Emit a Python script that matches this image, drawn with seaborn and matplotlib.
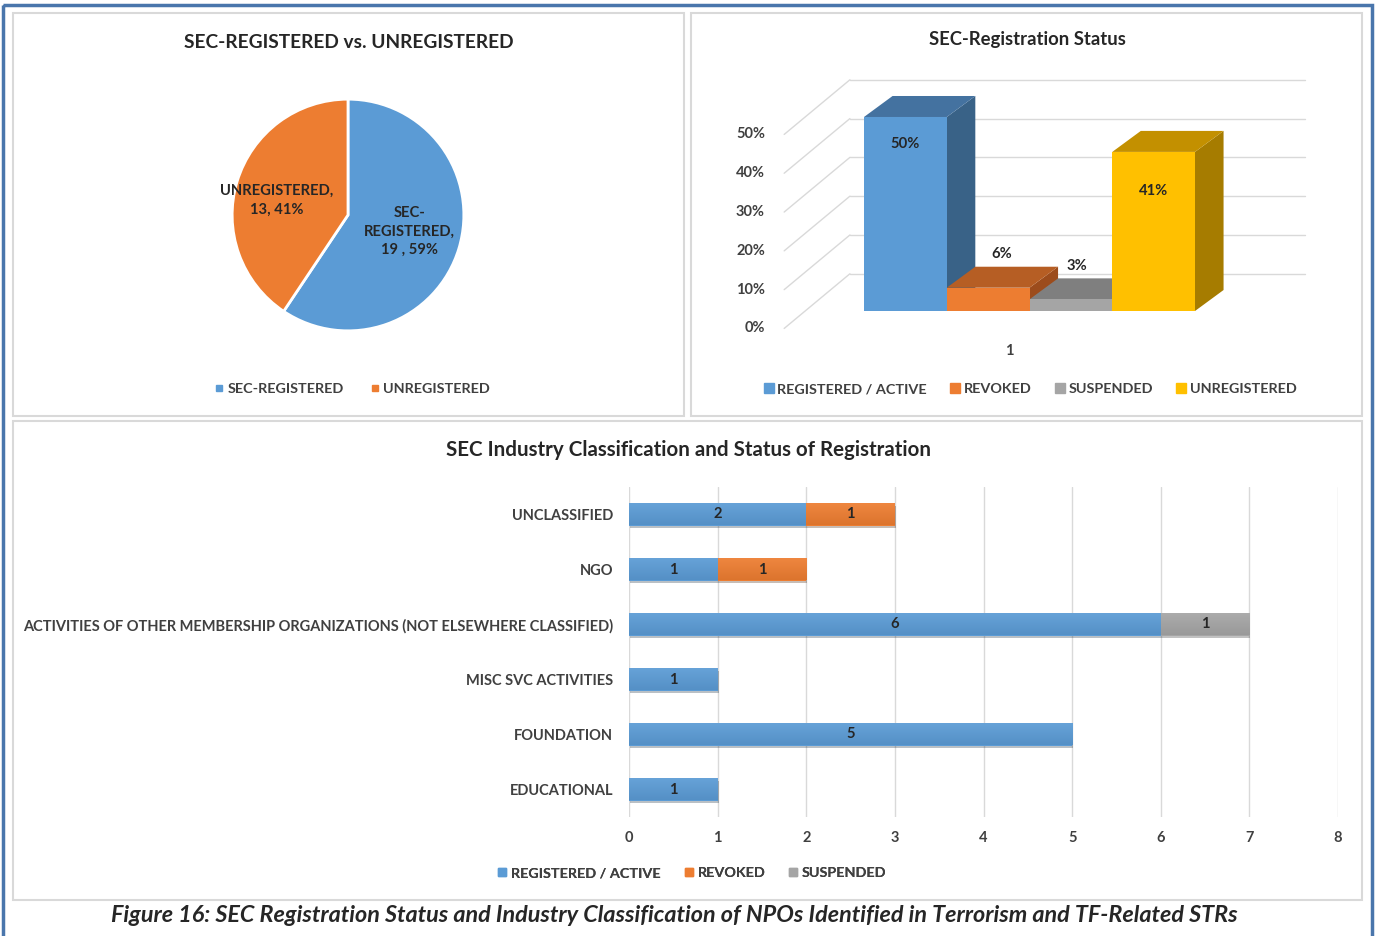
import numpy as np
import pandas as pd
import seaborn as sns
import matplotlib.pyplot as plt
from matplotlib.patches import Rectangle, Polygon
from matplotlib.lines import Line2D
from matplotlib.colors import to_rgb
import matplotlib.patheffects as pe

# --- data ---
pie_labels = ["SEC-REGISTERED", "UNREGISTERED"]
pie_counts = [19, 13]

status_names = ["REGISTERED / ACTIVE", "REVOKED", "SUSPENDED", "UNREGISTERED"]
status_pct = [50, 6, 3, 41]
status_cat = "1"

industries = ["UNCLASSIFIED", "NGO",
              "ACTIVITIES OF OTHER MEMBERSHIP ORGANIZATIONS (NOT ELSEWHERE CLASSIFIED)",
              "MISC SVC ACTIVITIES", "FOUNDATION", "EDUCATIONAL"]
active = [2, 1, 6, 1, 5, 1]
revoked = [1, 1, 0, 0, 0, 0]
suspended = [0, 0, 1, 0, 0, 0]

BLUE, ORANGE, GRAY, YELLOW = "#5B9BD5", "#ED7D31", "#A5A5A5", "#FFC000"
TXT = "#404040"
DARK = "#262626"

sns.set_style("white")
plt.rcParams['font.family'] = ['Lato', 'DejaVu Sans']

W, H = 1375, 936
fig = plt.figure(figsize=(W / 100, H / 100), dpi=100)


def px_axes(l, t, r, b):
    return fig.add_axes([l / W, 1 - b / H, (r - l) / W, (b - t) / H])


def square_legend(labels, colors, xy, msize, gap):
    handles = [Line2D([], [], marker='s', ls='none', color=c, markersize=msize) for c in colors]
    leg = bg.legend(handles, labels, loc='center', bbox_to_anchor=xy, bbox_transform=bg.transData,
                    ncol=len(labels), frameon=False, handlelength=0.7, handletextpad=0.25,
                    columnspacing=gap, prop=dict(size=10.4, weight='bold'), labelcolor=TXT)
    bg.add_artist(leg)


# background axes in pixel coords for frames, titles, caption
bg = px_axes(0, 0, W, H)
bg.set_xlim(0, W)
bg.set_ylim(H, 0)
bg.axis('off')
bg.set_zorder(-1)

bg.add_patch(Rectangle((3, 5), 1369, 940, fill=False, edgecolor='#4A76AC', lw=2.5))
for (l, t, r, b) in [(13, 13, 684, 416), (691, 13, 1362, 416), (13, 421, 1362, 900)]:
    bg.add_patch(Rectangle((l, t), r - l, b - t, fill=False, edgecolor='#D9D9D9', lw=1.5))

bg.text(349, 42, "SEC-REGISTERED vs. UNREGISTERED", ha='center', va='center',
        fontsize=13.8, color=DARK, fontweight='bold')
bg.text(1027, 40, "SEC-Registration Status", ha='center', va='center',
        fontsize=13.3, color=DARK, fontweight='bold')
bg.text(689, 450, "SEC Industry Classification and Status of Registration", ha='center', va='center',
        fontsize=14.8, color=DARK, fontweight='bold')
bg.text(674, 916, "Figure 16: SEC Registration Status and Industry Classification of NPOs "
        "Identified in Terrorism and TF-Related STRs", ha='center', va='center',
        fontsize=16.8, fontweight='bold', style='italic', color=DARK)

# --- pie ---
axp = px_axes(231, 98, 465, 332)
axp.pie(pie_counts, colors=[BLUE, ORANGE], startangle=90, counterclock=False,
        wedgeprops=dict(edgecolor='white', linewidth=2))
axp.set_xlim(-1.01, 1.01)
axp.set_ylim(-1.01, 1.01)
axp.set_aspect('equal')
total = sum(pie_counts)
pcts = [round(c / total * 100) for c in pie_counts]
axp.text(0.53, -0.145, f"SEC-\nREGISTERED,\n{pie_counts[0]} , {pcts[0]}%", ha='center', va='center',
         fontsize=10.6, fontweight='bold', color=DARK, linespacing=1.4)
axp.text(-0.615, 0.128, f"{pie_labels[1]},\n{pie_counts[1]}, {pcts[1]}%", ha='center', va='center',
         fontsize=10.6, fontweight='bold', color=DARK, linespacing=1.4)
square_legend(pie_labels, [BLUE, ORANGE], (352, 389), 5, 1.8)

# --- pseudo 3d column chart ---
ax3 = px_axes(772, 70, 1320, 338)
df3 = pd.DataFrame({"cat": [status_cat] * 4, "status": status_names, "pct": status_pct})
sns.barplot(data=df3, x="cat", y="pct", hue="status", hue_order=status_names,
            palette=[BLUE, ORANGE, GRAY, YELLOW], saturation=1, width=0.8,
            legend=False, ax=ax3, linewidth=0)
ax3.set_xlim(-0.6224, 0.7021)
ax3.set_ylim(-6.96, 62.11)

dx, dy = 0.069, 5.41
tops = ['#4472A0', '#B65E24', '#7F7F7F', '#C39000']
sides = ['#396287', '#9C4C1C', '#6B6B6B', '#A67C00']
label_off = [(0, -7), (0.034, 8.7), (0.015, 8.6), (0, -10.1)]
bars = sorted(ax3.patches, key=lambda p: p.get_x())
for i, p in enumerate(bars):
    x0, w, h = p.get_x(), p.get_width(), p.get_height()
    x1 = x0 + w
    ax3.add_patch(Polygon([(x1, 0), (x1, h), (x1 + dx, h + dy), (x1 + dx, dy)],
                          facecolor=sides[i], edgecolor='none', zorder=2 + 2 * i))
    ax3.add_patch(Polygon([(x0, h), (x1, h), (x1 + dx, h + dy), (x0 + dx, h + dy)],
                          facecolor=tops[i], edgecolor='none', zorder=2 + 2 * i))
    p.set_zorder(3 + 2 * i)
    ox, oy = label_off[i]
    ax3.text(x0 + w / 2 + ox, h + oy, f"{status_pct[i]}%", ha='center', va='center',
             fontsize=10.6, fontweight='bold', color=DARK, zorder=20)

grid_vals = [0, 10, 20, 30, 40, 50]
for v in grid_vals:
    ax3.plot([-0.434, 0.666], [v + 9.6, v + 9.6], color='#D9D9D9', lw=1, zorder=1)
    ax3.plot([-0.593, -0.434], [v - 4.5, v + 9.6], color='#D9D9D9', lw=1, zorder=1)
ax3.set_yticks([v - 4.12 for v in grid_vals], labels=[f"{v}%" for v in grid_vals])
ax3.set_xticks([-0.0495], labels=[status_cat])
ax3.tick_params(length=0, labelsize=10.5, labelcolor=TXT)
ax3.tick_params(axis='y', pad=5)
ax3.tick_params(axis='x', pad=4)
for t in ax3.get_yticklabels() + ax3.get_xticklabels():
    t.set_fontweight('bold')
ax3.set_xlabel('')
ax3.set_ylabel('')
sns.despine(ax=ax3, left=True, bottom=True)
square_legend(status_names, [BLUE, ORANGE, GRAY, YELLOW], (1030, 389), 6.5, 1.6)

# --- stacked horizontal bars ---
axb = px_axes(629, 487, 1338, 817)
dfb = pd.DataFrame({"industry": industries, "active": active, "revoked": revoked, "suspended": suspended})
left_rev = np.array(active)
left_sus = np.array(active) + np.array(revoked)
sns.barplot(data=dfb, y="industry", x="active", color=BLUE, saturation=1, width=0.4,
            orient='h', ax=axb, linewidth=0)
sns.barplot(data=dfb, y="industry", x="revoked", color=ORANGE, saturation=1, width=0.4,
            orient='h', ax=axb, linewidth=0, left=left_rev)
sns.barplot(data=dfb, y="industry", x="suspended", color=GRAY, saturation=1, width=0.4,
            orient='h', ax=axb, linewidth=0, left=left_sus)

# soft drop shadow + vertical shading like the office chart
for p in list(axb.patches):
    p.set_path_effects([pe.SimplePatchShadow(offset=(0.8, -1.8), alpha=0.3), pe.Normal()])
    if p.get_width() <= 0:
        continue
    x0, y0, w, h = p.get_x(), p.get_y(), p.get_width(), p.get_height()
    c = np.array(to_rgb(p.get_facecolor()))
    t = np.linspace(0, 1, 40)[:, None, None]
    img = (c + (1 - c) * 0.07) * (1 - t) + (c * 0.93) * t
    axb.imshow(img, extent=(x0, x0 + w, y0 + h, y0), aspect='auto', origin='upper',
               interpolation='bilinear', zorder=p.get_zorder() + 0.1)

for cont, vals in zip(axb.containers, [active, revoked, suspended]):
    axb.bar_label(cont, labels=[str(v) if v else "" for v in vals], label_type='center',
                  fontsize=10.6, fontweight='bold', color=DARK, zorder=10)
axb.set_xlim(0, 8)
axb.set_ylim(len(industries) - 0.5, -0.5)
axb.set_xticks(range(0, 9))
axb.grid(axis='x', color='#D9D9D9', lw=1)
axb.set_axisbelow(True)
for s in axb.spines.values():
    s.set_visible(False)
axb.tick_params(length=0, labelsize=10.5, labelcolor=TXT)
axb.tick_params(axis='y', pad=11.5)
axb.tick_params(axis='x', pad=10)
for t in axb.get_yticklabels() + axb.get_xticklabels():
    t.set_fontweight('bold')
axb.set_xlabel('')
axb.set_ylabel('')
square_legend(status_names[:3], [BLUE, ORANGE, GRAY], (692, 873), 6, 1.6)

fig.savefig('out.png', dpi=100)
